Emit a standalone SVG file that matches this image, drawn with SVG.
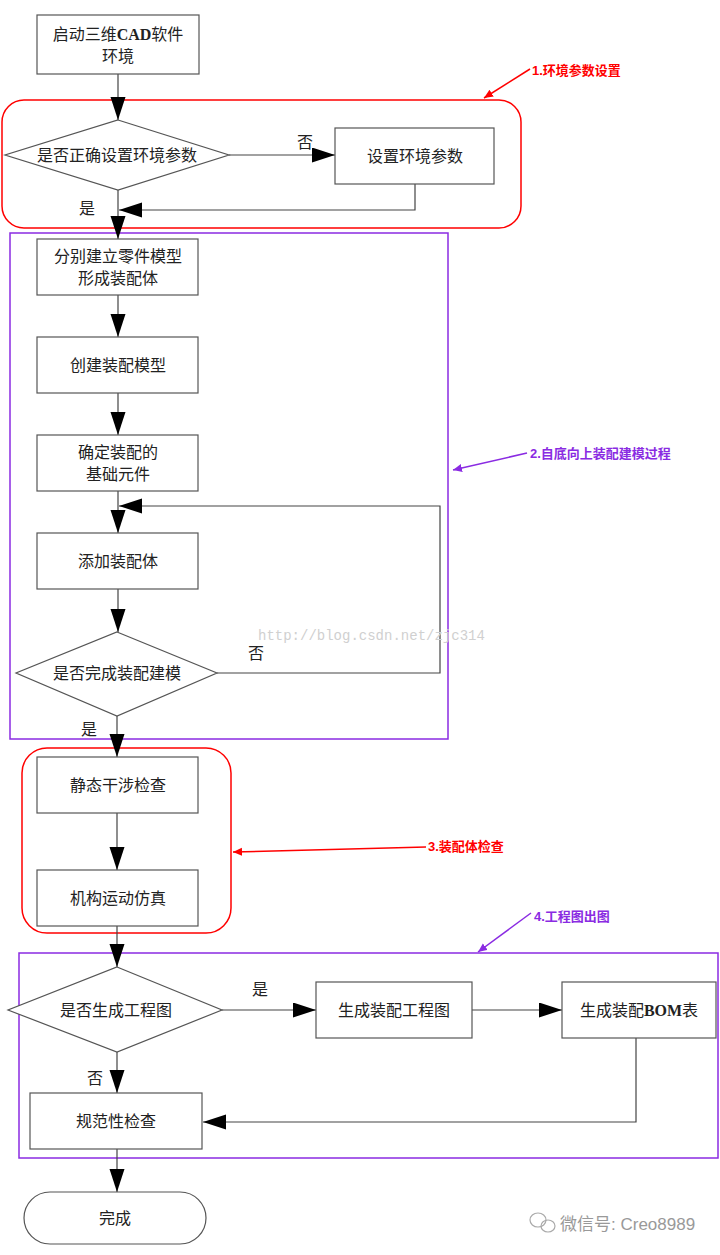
<svg xmlns="http://www.w3.org/2000/svg" width="720" height="1255" viewBox="0 0 720 1255">
<defs>
<marker id="ah" markerUnits="userSpaceOnUse" markerWidth="24" markerHeight="16" refX="23" refY="7.5" orient="auto">
<path d="M0,0 L23,7.5 L0,15 z" fill="#000"/>
</marker>
<marker id="ahr" markerUnits="userSpaceOnUse" markerWidth="10" markerHeight="10" refX="9" refY="4" orient="auto">
<path d="M0,0 L9,4 L0,8 z" fill="#f00"/>
</marker>
<marker id="ahp" markerUnits="userSpaceOnUse" markerWidth="10" markerHeight="10" refX="9" refY="4" orient="auto">
<path d="M0,0 L9,4 L0,8 z" fill="#8a2be2"/>
</marker>
</defs>
<style>
.box{fill:#fff;stroke:#555;stroke-width:1.2}
.t{font-family:"Liberation Serif","Noto Sans CJK SC",serif;font-size:16px;fill:#222;text-anchor:middle}
.c{fill:none;stroke:#444;stroke-width:1.2;marker-end:url(#ah)}
.cn{fill:none;stroke:#444;stroke-width:1.2}
.lbl{font-family:"Liberation Serif","Noto Sans CJK SC",serif;font-size:16px;fill:#222}
.red{fill:none;stroke:#f00;stroke-width:1.5}
.pur{fill:none;stroke:#8a2be2;stroke-width:1.5}
.ar{font-family:"Liberation Sans","Noto Sans CJK SC",sans-serif;font-size:13px;font-weight:bold;fill:#f00}
.ap{font-family:"Liberation Sans","Noto Sans CJK SC",sans-serif;font-size:13px;font-weight:bold;fill:#8a2be2}
</style>
<rect width="720" height="1255" fill="#fff"/>

<g id="groups">
<rect id="g1" class="red" x="2" y="100" width="519" height="128" rx="22"/>
<rect id="g2" class="pur" x="10" y="233" width="438" height="506"/>
<rect id="g3" class="red" x="22" y="748" width="209" height="185" rx="25"/>
<rect id="g4" class="pur" x="19" y="953" width="699" height="205"/>
</g>

<g id="connectors">
<path class="c" d="M118,74 V120"/>
<path class="c" d="M229,155 H335"/>
<path class="c" d="M415,184 V210 H119"/>
<path class="c" d="M118,190 V239"/>
<path class="c" d="M118,295 V337"/>
<path class="c" d="M118,393 V435"/>
<path class="c" d="M118,491 V533"/>
<path class="c" d="M118,589 V632"/>
<path class="c" d="M217,673 H440 V506 H119"/>
<path class="c" d="M117,716 V757"/>
<path class="c" d="M117,813 V870"/>
<path class="c" d="M117,926 V967"/>
<path class="c" d="M222,1010 H316"/>
<path class="c" d="M472,1010 H562"/>
<path class="c" d="M636,1038 V1122 H203"/>
<path class="c" d="M117,1052 V1093"/>
<path class="c" d="M117,1149 V1192"/>
</g>

<g id="labels">
<text class="lbl" x="297" y="148">否</text>
<text class="lbl" x="79" y="214">是</text>
<text class="lbl" x="248" y="659">否</text>
<text class="lbl" x="81" y="735">是</text>
<text class="lbl" x="252" y="995">是</text>
<text class="lbl" x="87" y="1084">否</text>
</g>

<g id="n1"><rect class="box" x="37" y="15" width="162" height="59"/><text class="t" x="118" y="40">启动三维<tspan font-weight="bold">CAD</tspan>软件</text><text class="t" x="118" y="62">环境</text></g>
<g id="n2"><polygon class="box" points="118,120 229,155 118,190 5,155"/><text class="t" x="117" y="161">是否正确设置环境参数</text></g>
<g id="n3"><rect class="box" x="335" y="128" width="159" height="56"/><text class="t" x="415" y="162">设置环境参数</text></g>
<g id="n4"><rect class="box" x="37" y="239" width="161" height="56"/><text class="t" x="118" y="262">分别建立零件模型</text><text class="t" x="118" y="284">形成装配体</text></g>
<g id="n5"><rect class="box" x="37" y="337" width="161" height="56"/><text class="t" x="118" y="371">创建装配模型</text></g>
<g id="n6"><rect class="box" x="37" y="435" width="161" height="56"/><text class="t" x="118" y="458">确定装配的</text><text class="t" x="118" y="480">基础元件</text></g>
<g id="n7"><rect class="box" x="37" y="533" width="161" height="56"/><text class="t" x="118" y="567">添加装配体</text></g>
<g id="n8"><polygon class="box" points="117,632 217,673 117,716 16,673"/><text class="t" x="117" y="679">是否完成装配建模</text></g>
<g id="n9"><rect class="box" x="37" y="757" width="161" height="56"/><text class="t" x="118" y="791">静态干涉检查</text></g>
<g id="n10"><rect class="box" x="37" y="870" width="161" height="56"/><text class="t" x="118" y="904">机构运动仿真</text></g>
<g id="n11"><polygon class="box" points="117,967 222,1010 117,1052 8,1010"/><text class="t" x="116" y="1016">是否生成工程图</text></g>
<g id="n12"><rect class="box" x="316" y="982" width="156" height="56"/><text class="t" x="394" y="1016">生成装配工程图</text></g>
<g id="n13"><rect class="box" x="562" y="982" width="154" height="56"/><text class="t" x="639" y="1016">生成装配<tspan font-weight="bold">BOM</tspan>表</text></g>
<g id="n14"><rect class="box" x="30" y="1093" width="172" height="56"/><text class="t" x="116" y="1127">规范性检查</text></g>
<g id="n15"><rect class="box" x="24" y="1192" width="182" height="52" rx="26"/><text class="t" x="115" y="1224">完成</text></g>

<g id="annotations">
<path d="M530,69 L484,98" fill="none" stroke="#f00" stroke-width="1.5" marker-end="url(#ahr)"/>
<text class="ar" x="532" y="75">1.环境参数设置</text>
<path d="M527,453 L453,470" fill="none" stroke="#8a2be2" stroke-width="1.5" marker-end="url(#ahp)"/>
<text class="ap" x="530" y="458">2.自底向上装配建模过程</text>
<path d="M426,847 L233,852" fill="none" stroke="#f00" stroke-width="1.5" marker-end="url(#ahr)"/>
<text class="ar" x="428" y="851">3.装配体检查</text>
<path d="M531,913 L478,952" fill="none" stroke="#8a2be2" stroke-width="1.5" marker-end="url(#ahp)"/>
<text class="ap" x="534" y="921">4.工程图出图</text>
</g>

<g id="watermark">
<text x="258" y="640" font-family="Liberation Mono, monospace" font-size="14" fill="#d0d0d0">http://blog.csdn.net/zjc314</text>
<g fill="none" stroke="#aaa" stroke-width="1.2">
<ellipse cx="538" cy="1220" rx="8" ry="7"/>
<ellipse cx="548" cy="1226" rx="7" ry="6"/>
</g>
<text x="560" y="1230" font-family="Liberation Sans, 'Noto Sans CJK SC', sans-serif" font-size="17" fill="#999">微信号: Creo8989</text>
</g>
</svg>
